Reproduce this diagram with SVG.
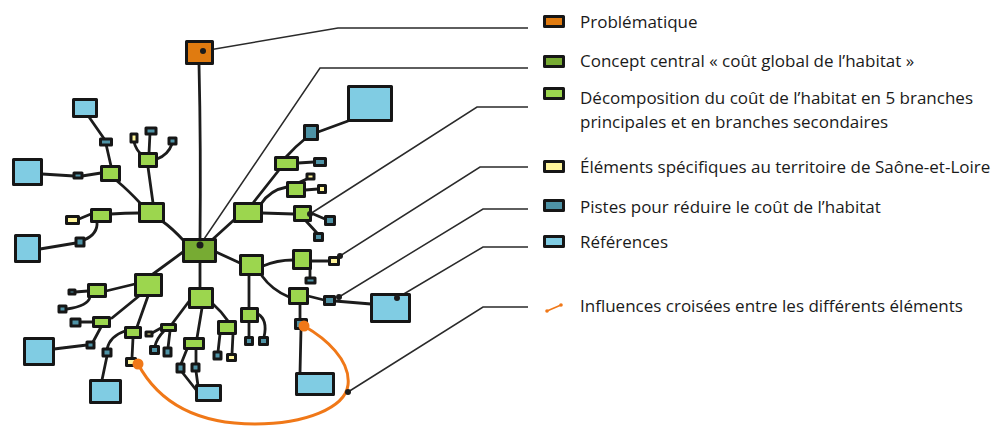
<svg xmlns="http://www.w3.org/2000/svg" width="997" height="426" viewBox="0 0 997 426">
<style>
.e{fill:none;stroke:#1c1c1c;stroke-width:2.8;stroke-linecap:round;stroke-linejoin:round}
.ld{fill:none;stroke:#2a2a2a;stroke-width:1.5}
.n{stroke:#161616;stroke-width:3;stroke-linejoin:round}
.or{fill:#E07B10}.cg{fill:#77AB33}.lg{fill:#9CD64E}.ye{fill:#FFF59B}.te{fill:#4E93A6}.bl{fill:#80CCE3}
.dot{fill:#1c1c1c}
.inf{fill:none;stroke:#F07818;stroke-width:3;stroke-linecap:round}
.od{fill:#F07818}
text{font-family:"Open Sans","Noto Sans",sans-serif;font-size:17px;fill:#1a1a1a}
</style>
<rect width="997" height="426" fill="#fff"/>
<g id="leaders">
<path class="ld" d="M203,51 L338,28 L528,28"/>
<path class="ld" d="M200,245 L320,68 L528,68"/>
<path class="ld" d="M310,214 L477,107 L528,107"/>
<path class="ld" d="M340,256 L480,167 L528,167"/>
<path class="ld" d="M339,297 L483,209 L528,209"/>
<path class="ld" d="M397,298 L483,247 L528,247"/>
<path class="ld" d="M348,392 L483,307 L528,307"/>
</g>
<g id="connectors">
<path class="e" d="M199,64 Q201,150 200,240"/>
<path class="e" d="M184,241 Q172,228 162,221"/>
<path class="e" d="M141,204 Q128,190 117,181"/>
<path class="e" d="M111,166 L106,144"/>
<path class="e" d="M105,140 L89,117"/>
<path class="e" d="M101,173 L82,176"/>
<path class="e" d="M74,176 L42,174"/>
<path class="e" d="M153,203 L148,167"/>
<path class="e" d="M142,155 Q136,150 134,142"/>
<path class="e" d="M149,153 L150,133"/>
<path class="e" d="M157,159 Q168,155 172,144"/>
<path class="e" d="M139,213 Q125,213 111,214"/>
<path class="e" d="M91,214 L79,219"/>
<path class="e" d="M97,222 Q98,234 84,240"/>
<path class="e" d="M76,243 L40,249"/>
<path class="e" d="M183,252 L153,274"/>
<path class="e" d="M135,284 L106,291"/>
<path class="e" d="M88,291 L75,292"/>
<path class="e" d="M90,297 Q88,306 67,309"/>
<path class="e" d="M139,296 L112,318"/>
<path class="e" d="M93,322 L80,322"/>
<path class="e" d="M101,327 L93,342"/>
<path class="e" d="M87,345 L54,349"/>
<path class="e" d="M148,296 L137,327"/>
<path class="e" d="M125,331 Q110,336 107,349"/>
<path class="e" d="M107,356 L102,380"/>
<path class="e" d="M133,338 L132,358"/>
<path class="e" d="M200,262 L200,288"/>
<path class="e" d="M190,300 L172,324"/>
<path class="e" d="M161,328 L152,333"/>
<path class="e" d="M164,331 Q157,338 155,346"/>
<path class="e" d="M170,331 L168,348"/>
<path class="e" d="M202,308 L197,338"/>
<path class="e" d="M187,349 L181,364"/>
<path class="e" d="M196,349 L196,364"/>
<path class="e" d="M182,372 L197,391"/>
<path class="e" d="M196,371 L198,386"/>
<path class="e" d="M213,304 Q222,312 228,321"/>
<path class="e" d="M220,334 L218,352"/>
<path class="e" d="M233,334 L232,354"/>
<path class="e" d="M216,252 L240,263"/>
<path class="e" d="M249,275 L249,308"/>
<path class="e" d="M249,322 L249,337"/>
<path class="e" d="M258,314 Q268,320 264,337"/>
<path class="e" d="M263,266 Q277,260 293,260"/>
<path class="e" d="M311,261 L329,261"/>
<path class="e" d="M310,269 L310,278"/>
<path class="e" d="M262,276 Q272,290 289,297"/>
<path class="e" d="M308,296 L324,300"/>
<path class="e" d="M335,301 L371,304"/>
<path class="e" d="M300,304 L300,319"/>
<path class="e" d="M301,329 L300,373"/>
<path class="e" d="M213,239 L235,219"/>
<path class="e" d="M253,203 L279,170"/>
<path class="e" d="M286,157 Q296,146 306,138"/>
<path class="e" d="M318,132 L348,121"/>
<path class="e" d="M298,163 L314,162"/>
<path class="e" d="M261,204 Q270,190 287,187"/>
<path class="e" d="M300,182 L309,178"/>
<path class="e" d="M305,190 L318,189"/>
<path class="e" d="M262,213 L294,214"/>
<path class="e" d="M311,213 L325,219"/>
<path class="e" d="M306,221 L317,233"/>
<path class="inf" d="M138,364 C160,405 200,424 255,424 C305,424 345,408 348,385 C351,360 325,338 304,326"/>
</g>
<g id="nodes">
<rect id="problematique" class="n or" x="186.5" y="41.5" width="26" height="22"/>
<rect id="central" class="n cg" x="183.5" y="239.5" width="32" height="22"/>
<rect id="nA" class="n bl" x="73.5" y="99.5" width="23" height="17"/>
<rect id="na" class="n te" x="100.5" y="139" width="11" height="6"/>
<rect id="nB" class="n lg" x="101.5" y="166.5" width="18" height="14"/>
<rect id="nC" class="n bl" x="13.5" y="159.5" width="28" height="25"/>
<rect id="nb" class="n te" x="74" y="173" width="8" height="5"/>
<rect id="nc" class="n ye" x="131" y="134" width="6" height="8"/>
<rect id="nd" class="n te" x="146" y="128" width="10" height="6"/>
<rect id="ne" class="n te" x="169" y="138" width="7" height="6"/>
<rect id="nf" class="n lg" x="139.5" y="153.5" width="17" height="13"/>
<rect id="nG" class="n lg" x="139.5" y="203.5" width="24" height="18"/>
<rect id="nh" class="n ye" x="66.5" y="216.5" width="12" height="7"/>
<rect id="ni" class="n lg" x="91.5" y="209.5" width="19" height="12"/>
<rect id="nj" class="n te" x="76" y="238" width="8" height="8"/>
<rect id="nK" class="n bl" x="15.5" y="235.5" width="24" height="26"/>
<rect id="nL" class="n lg" x="135.5" y="274.5" width="26" height="21"/>
<rect id="nm" class="n lg" x="88.5" y="284.5" width="17" height="12"/>
<rect id="nn" class="n te" x="69" y="290" width="6" height="4"/>
<rect id="no" class="n te" x="59" y="306" width="7" height="6"/>
<rect id="np" class="n lg" x="93.5" y="317.5" width="16" height="9"/>
<rect id="nq" class="n te" x="71" y="319" width="9" height="7"/>
<rect id="nR" class="n bl" x="24.5" y="338.5" width="29" height="26"/>
<rect id="ns" class="n te" x="87" y="342" width="7" height="6"/>
<rect id="nt" class="n lg" x="125.5" y="327.5" width="15" height="10"/>
<rect id="nu" class="n te" x="103" y="349" width="8" height="7"/>
<rect id="nv" class="n ye" x="126.5" y="358.5" width="9" height="7"/>
<rect id="nW" class="n bl" x="90.5" y="380.5" width="30" height="22"/>
<rect id="nM" class="n lg" x="189.5" y="288.5" width="23" height="19"/>
<rect id="nx" class="n lg" x="161.5" y="324.5" width="14" height="6"/>
<rect id="ny" class="n ye" x="146" y="332" width="6" height="4"/>
<rect id="nz1" class="n te" x="150.5" y="346.5" width="8" height="7"/>
<rect id="nz2" class="n te" x="164" y="348" width="7" height="8"/>
<rect id="nO" class="n lg" x="184.5" y="338.5" width="19" height="10"/>
<rect id="nO1" class="n te" x="177" y="364" width="7" height="8"/>
<rect id="nO2" class="n te" x="192" y="364" width="7" height="7"/>
<rect id="nP" class="n bl" x="196.5" y="385.5" width="24" height="15"/>
<rect id="nQ" class="n lg" x="218.5" y="321.5" width="17" height="12"/>
<rect id="nQ1" class="n te" x="214" y="352" width="7" height="7"/>
<rect id="nQ2" class="n ye" x="227.5" y="354.5" width="8" height="6"/>
<rect id="nN" class="n lg" x="240.5" y="255.5" width="22" height="19"/>
<rect id="nR2" class="n lg" x="241.5" y="308.5" width="16" height="13"/>
<rect id="nR2a" class="n te" x="245.5" y="337.5" width="7" height="7"/>
<rect id="nR2b" class="n te" x="259.5" y="337.5" width="8" height="7"/>
<rect id="nS" class="n lg" x="293.5" y="250.5" width="17" height="18"/>
<rect id="nS1" class="n ye" x="329.5" y="257.5" width="9" height="7"/>
<rect id="nS2" class="n te" x="306" y="278" width="9" height="5"/>
<rect id="nT" class="n lg" x="289.5" y="288.5" width="18" height="15"/>
<rect id="nT1" class="n te" x="324.5" y="296.5" width="10" height="8"/>
<rect id="nU" class="n bl" x="371.5" y="294.5" width="38" height="27"/>
<rect id="nT2" class="n te" x="295.5" y="319.5" width="11" height="9"/>
<rect id="nV" class="n bl" x="296.5" y="373.5" width="37" height="21"/>
<rect id="nX" class="n lg" x="234.5" y="203.5" width="27" height="18"/>
<rect id="nY" class="n lg" x="275.5" y="157.5" width="22" height="12"/>
<rect id="nY1" class="n te" x="314.5" y="158.5" width="11" height="7"/>
<rect id="nZ" class="n te" x="304.5" y="125.5" width="13" height="14"/>
<rect id="nBig" class="n bl" x="348.5" y="86.5" width="43" height="34"/>
<rect id="nAA" class="n lg" x="287.5" y="182.5" width="17" height="14"/>
<rect id="nAA1" class="n ye" x="307" y="174" width="7" height="5"/>
<rect id="nAA2" class="n ye" x="318.5" y="185.5" width="7" height="7"/>
<rect id="nBB" class="n lg" x="294.5" y="206.5" width="16" height="14"/>
<rect id="nBB1" class="n te" x="325.5" y="216.5" width="9" height="8"/>
<rect id="nBB2" class="n te" x="314.5" y="233.5" width="8" height="7"/>
<circle class="od" cx="138" cy="364" r="5.5"/>
<circle class="od" cx="304" cy="326" r="5.5"/>
<circle class="dot" cx="203" cy="51" r="3"/>
<circle class="dot" cx="200" cy="245" r="3.5"/>
<circle class="dot" cx="310" cy="214" r="3"/>
<circle class="dot" cx="340" cy="256" r="3"/>
<circle class="dot" cx="339" cy="297" r="3"/>
<circle class="dot" cx="397" cy="298" r="3"/>
<circle class="dot" cx="348" cy="392" r="3"/>
</g>
<g id="legend">
<rect class="n or" x="544.5" y="16.5" width="19" height="10"/>
<text x="580" y="28">Problématique</text>
<rect class="n cg" x="544.5" y="56.5" width="19" height="10"/>
<text x="580" y="67">Concept central « coût global de l’habitat »</text>
<rect class="n lg" x="544.5" y="88.5" width="19" height="10"/>
<text x="580" y="104">Décomposition du coût de l’habitat en 5 branches</text>
<text x="580" y="128">principales et en branches secondaires</text>
<rect class="n ye" x="544.5" y="161.5" width="19" height="10"/>
<text x="580" y="173">Éléments spécifiques au territoire de Saône-et-Loire</text>
<rect class="n te" x="544.5" y="200.5" width="19" height="10"/>
<text x="580" y="213">Pistes pour réduire le coût de l’habitat</text>
<rect class="n bl" x="544.5" y="236.5" width="19" height="10"/>
<text x="580" y="248">Références</text>
<path d="M547,311 L561,305" stroke="#F07818" stroke-width="1.6"/>
<circle class="od" cx="547" cy="311" r="1.8"/>
<circle class="od" cx="561" cy="305" r="1.8"/>
<text x="580" y="312">Influences croisées entre les différents éléments</text>
</g>
</svg>
